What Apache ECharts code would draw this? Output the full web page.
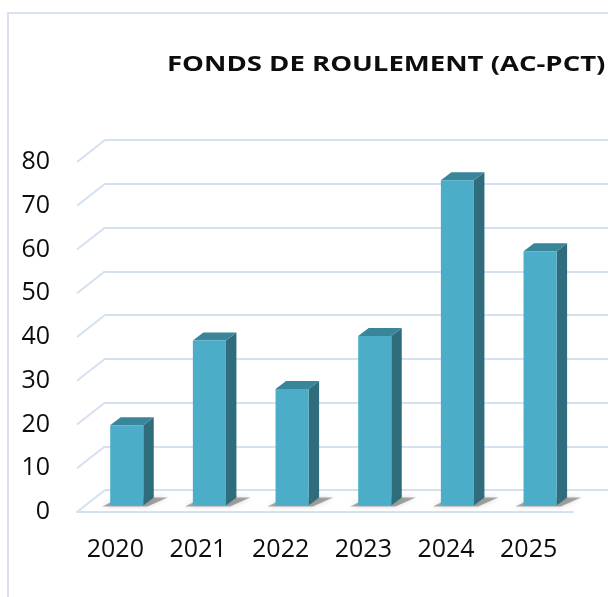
<!DOCTYPE html>
<html>
<head>
<meta charset="utf-8">
<script src="https://cdn.jsdelivr.net/npm/echarts@6/dist/echarts.min.js"></script>
<style>
html,body{margin:0;padding:0;background:#fff;}
#c{width:608px;height:597px;}
</style>
</head>
<body>
<div id="c"></div>
<script>
const categories = ['2020', '2021', '2022', '2023', '2024', '2025'];
const values = [18.3, 37.7, 26.6, 38.7, 74.3, 58.1];
const ticks = [0, 10, 20, 30, 40, 50, 60, 70, 80];
const titleText = 'FONDS DE ROULEMENT (AC-PCT)';

const GRID = '#d5e0f1';
const FONT = 'Open Sans';
const DX = 28, DY = 22;

const chart = echarts.init(document.getElementById('c'), null, {renderer: 'canvas'});

const barData = values.map((v, i) => [i, v]);
const diagData = ticks.map(t => [0, t]);

chart.setOption({
  animation: false,
  backgroundColor: '#fff',
  graphic: [
    {type: 'polyline', shape: {points: [[8, 597], [8, 13], [608, 13]]},
     style: {stroke: '#d9e2ee', lineWidth: 2, fill: null}, silent: true, z: 0},
    {type: 'text', x: 167, y: 65, scaleX: 1.28, silent: true, z: 10,
     style: {text: titleText, fontFamily: FONT, fontWeight: 'bold', fontSize: 21.5,
             fill: '#0d0d0d', align: 'left', verticalAlign: 'middle'}}
  ],
  grid: [
    {left: 105, right: 0, top: 140, bottom: 107},
    {left: 77, right: 35, top: 162, bottom: 85}
  ],
  xAxis: [
    {gridIndex: 0, type: 'category', data: categories, show: false},
    {gridIndex: 1, type: 'category', data: categories,
     axisLine: {show: true, lineStyle: {color: GRID, width: 2}},
     axisTick: {show: false},
     axisLabel: {margin: 25, padding: [0, 6, 0, 0], fontFamily: FONT, fontSize: 25, color: '#0d0d0d'}}
  ],
  yAxis: [
    {gridIndex: 0, type: 'value', min: 0, max: 80, interval: 10,
     axisLine: {show: false}, axisTick: {show: false}, axisLabel: {show: false},
     splitLine: {show: true, lineStyle: {color: GRID, width: 2}}},
    {gridIndex: 1, type: 'value', min: 0, max: 80, interval: 10,
     axisLine: {show: false}, axisTick: {show: false},
     splitLine: {show: false},
     axisLabel: {margin: 27, fontFamily: FONT, fontSize: 25, color: '#0d0d0d'}}
  ],
  series: [
    {
      type: 'custom',
      xAxisIndex: 1, yAxisIndex: 1,
      data: diagData,
      silent: true,
      z: 1,
      renderItem: function (params, api) {
        const p = api.coord([0, api.value(1)]);
        const x = params.coordSys.x;
        return {
          type: 'line',
          shape: {x1: x, y1: p[1], x2: x + DX, y2: p[1] - DY},
          style: {stroke: GRID, lineWidth: 2}
        };
      }
    },
    {
      type: 'custom',
      xAxisIndex: 1, yAxisIndex: 1,
      data: barData,
      z: 5,
      renderItem: function (params, api) {
        const c0 = api.coord([api.value(0), 0]);
        const c1 = api.coord([api.value(0), api.value(1)]);
        const bw = api.size([1, 0])[0] * 0.4;
        const ox = DX * 0.3, oy = DY * 0.3;
        const sdx = 10.5, sdy = 8;
        const x0 = c0[0] + ox - bw / 2;
        const yb = c0[1] - oy;
        const yt = c1[1] - oy;
        return {
          type: 'group',
          children: [
            {type: 'polygon', z2: 0,
             shape: {points: [[x0 - 8, yb + 1], [x0 + bw + 4, yb + 1], [x0 + bw + sdx + 14, yb - sdy], [x0 + sdx, yb - sdy]]},
             style: {fill: 'rgba(70,70,70,0.45)', shadowBlur: 5, shadowColor: 'rgba(70,70,70,0.5)'}},
            {type: 'polygon', z2: 1,
             shape: {points: [[x0 + bw, yt], [x0 + bw + sdx, yt - sdy], [x0 + bw + sdx, yb - sdy], [x0 + bw, yb]]},
             style: {fill: '#306d7c'}},
            {type: 'polygon', z2: 1,
             shape: {points: [[x0, yt], [x0 + sdx, yt - sdy], [x0 + bw + sdx, yt - sdy], [x0 + bw, yt]]},
             style: {fill: '#39859a'}},
            {type: 'rect', z2: 2,
             shape: {x: x0, y: yt, width: bw, height: yb - yt},
             style: {fill: '#4badc7'}}
          ]
        };
      }
    }
  ]
});
</script>
</body>
</html>
